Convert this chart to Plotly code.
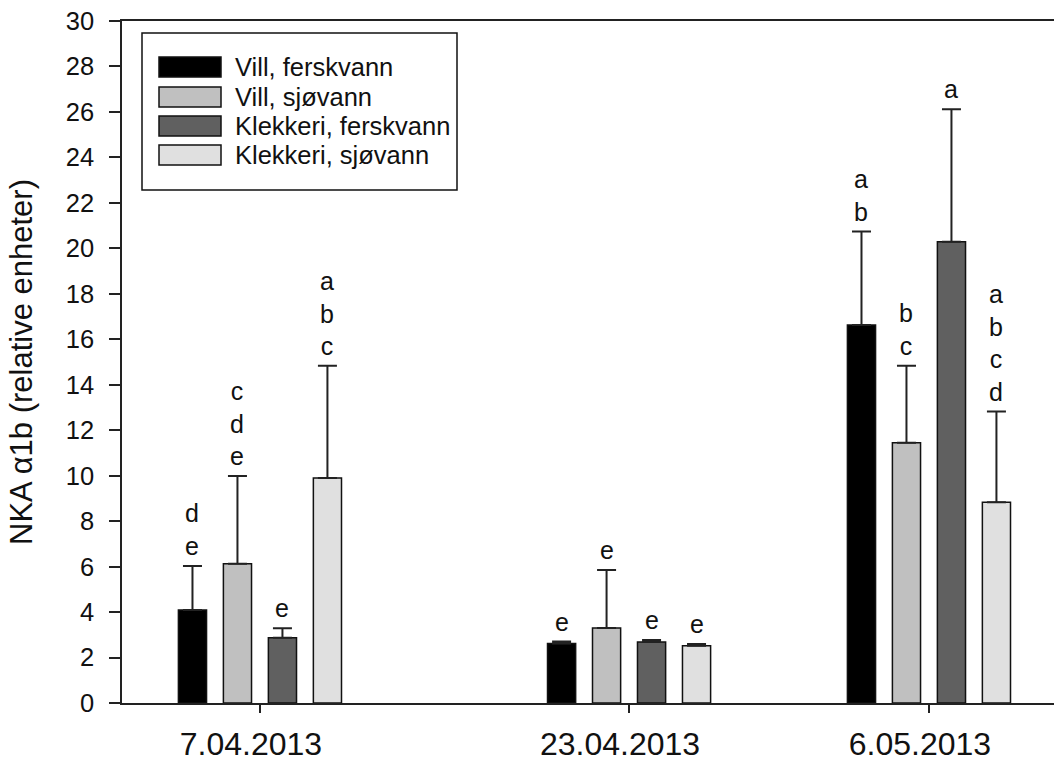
from datetime import datetime
import plotly.graph_objects as go

# ---------------- data ----------------
dates = ["7.04.2013", "23.04.2013", "6.05.2013"]
series = ["Vill, ferskvann", "Vill, sjøvann", "Klekkeri, ferskvann", "Klekkeri, sjøvann"]
colors = ["#000000", "#c0c0c0", "#606060", "#e0e0e0"]

means = {
    "Vill, ferskvann":     [4.09, 2.62, 16.63],
    "Vill, sjøvann":       [6.12, 3.30, 11.45],
    "Klekkeri, ferskvann": [2.87, 2.68, 20.29],
    "Klekkeri, sjøvann":   [9.90, 2.52, 8.83],
}
errors = {
    "Vill, ferskvann":     [1.94, 0.08, 4.11],
    "Vill, sjøvann":       [3.87, 2.55, 3.39],
    "Klekkeri, ferskvann": [0.42, 0.09, 5.83],
    "Klekkeri, sjøvann":   [4.94, 0.08, 3.99],
}
letters = {
    "Vill, ferskvann":     ["d<br>e", "e", "a<br>b"],
    "Vill, sjøvann":       ["c<br>d<br>e", "e", "b<br>c"],
    "Klekkeri, ferskvann": ["e", "e", "a"],
    "Klekkeri, sjøvann":   ["a<br>b<br>c", "e", "a<br>b<br>c<br>d"],
}

# x positions: day number counted from 1 April 2013
base = datetime(2013, 4, 1)
days = [(datetime.strptime(d, "%d.%m.%Y") - base).days + 1 for d in dates]

SPACING = 1.95   # distance between bars in a group (days)
BAR_W = 1.22     # bar width (days)

FONT = "Liberation Sans, Arial, sans-serif"
W, H = 1054, 763
ML, MR, MT, MB = 122, 0, 21, 60
PW, PH = W - ML - MR, H - MT - MB


def px_x(p):
    return (p - ML) / PW


def px_y(p):
    return (H - MB - p) / PH


fig = go.Figure()
annotations = []
for i, s in enumerate(series):
    xs = [d + (i - 1.5) * SPACING for d in days]
    fig.add_trace(go.Bar(
        x=xs, y=means[s], width=BAR_W, name=s,
        marker=dict(color=colors[i], line=dict(color="#111111", width=1.5)),
        error_y=dict(type="data", array=errors[s], arrayminus=[0] * len(days),
                     symmetric=False, color="#222222", thickness=2, width=9.5),
        showlegend=False,
    ))
    for x, m, e, t in zip(xs, means[s], errors[s], letters[s]):
        annotations.append(dict(
            x=x, y=m + e, xref="x", yref="y", text=t, showarrow=False,
            yanchor="bottom", yshift=4, align="center",
            font=dict(family=FONT, size=25, color="#111111"),
        ))

# manual legend (box, swatches, labels)
shapes = [dict(type="rect", xref="paper", yref="paper",
               x0=px_x(142), x1=px_x(457), y0=px_y(190), y1=px_y(33),
               line=dict(color="#111111", width=1.5), fillcolor="white", layer="above")]
row_centers = [67, 97, 126, 155]
for i, s in enumerate(series):
    yc = row_centers[i]
    shapes.append(dict(type="rect", xref="paper", yref="paper",
                       x0=px_x(159), x1=px_x(221), y0=px_y(yc + 10), y1=px_y(yc - 10),
                       line=dict(color="#111111", width=1.5), fillcolor=colors[i], layer="above"))
    annotations.append(dict(x=px_x(233), y=px_y(yc), xref="paper", yref="paper",
                            text=s, showarrow=False, xanchor="left", yanchor="middle",
                            font=dict(family=FONT, size=25.5, color="#111111")))

fig.update_layout(
    width=W, height=H,
    margin=dict(l=ML, r=MR, t=MT, b=MB, pad=0),
    paper_bgcolor="white", plot_bgcolor="white",
    barmode="overlay",
    shapes=shapes, annotations=annotations,
    font=dict(family=FONT, color="#111111"),
)
fig.update_xaxes(
    range=[1.02, 41.42], tickmode="array", tickvals=days, ticktext=dates,
    ticks="outside", ticklen=8, tickwidth=1.5, tickcolor="#222222",
    showline=True, linecolor="#222222", linewidth=1.5, mirror=True,
    showgrid=False, zeroline=False,
    tickfont=dict(family=FONT, size=32, color="#111111"),
    ticklabelshift=-9, ticklabelstandoff=4,
)
fig.update_yaxes(
    range=[0, 30], tick0=0, dtick=2,
    ticks="outside", ticklen=11, tickwidth=1.5, tickcolor="#222222",
    showline=True, linecolor="#222222", linewidth=1.5,
    showgrid=False, zeroline=False,
    tickfont=dict(family=FONT, size=25.5, color="#111111"),
    ticklabelstandoff=10,
    title=dict(text="NKA α1b (relative enheter)", font=dict(family=FONT, size=31, color="#111111"),
               standoff=24),
)

fig.write_html("out.html")
